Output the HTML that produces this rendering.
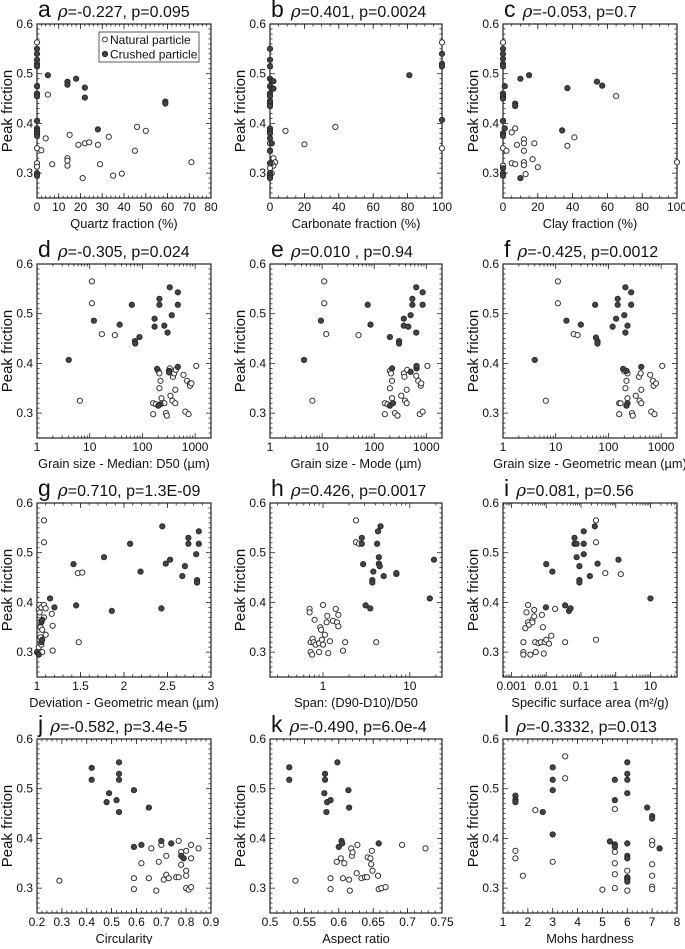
<!DOCTYPE html>
<html><head><meta charset="utf-8"><style>
body{margin:0;background:#fff}
svg text{font-family:"Liberation Sans",sans-serif;fill:#111}
</style></head><body>
<svg id="fig" width="685" height="944" viewBox="0 0 685 944" xmlns="http://www.w3.org/2000/svg"></svg>
<script>
// ---- data: [x, peak friction] pairs ----
const aNat=[[0,0.563],[0,0.35],[0,0.32],[0,0.313],[2,0.346],[4,0.37],[5,0.458],[7,0.318],[15,0.377],[19,0.357],[14,0.33],[14,0.325],[14,0.315],[21,0.29],[22,0.36],[24,0.362],[28,0.357],[29,0.318],[33,0.373],[35,0.295],[39,0.299],[45,0.345],[46,0.393],[50,0.385],[71,0.322]];
const aCru=[[0,0.55],[0,0.54],[0,0.528],[0,0.52],[0,0.515],[0,0.475],[0,0.46],[0,0.455],[0,0.405],[0,0.39],[0,0.385],[0,0.38],[0,0.375],[0,0.3],[0,0.295],[5,0.497],[14,0.484],[14,0.478],[18,0.49],[22,0.472],[22,0.452],[28,0.388],[59,0.444],[59,0.44]];
const bNat=[[100,0.563],[100,0.35],[9,0.385],[20,0.358],[38,0.393],[2,0.33],[3,0.322],[2,0.315],[1,0.3],[1,0.32],[0,0.31],[0,0.36],[1,0.36],[0,0.345]];
const bCru=[[0,0.55],[0,0.528],[0,0.515],[0,0.49],[1,0.485],[2,0.485],[0,0.475],[1,0.47],[2,0.47],[0,0.46],[0,0.455],[0,0.445],[0,0.44],[0,0.435],[0,0.39],[0,0.385],[0,0.38],[0,0.37],[1,0.36],[0,0.345],[0,0.32],[0,0.3],[0,0.295],[0,0.29],[81,0.497],[100,0.54],[100,0.52],[100,0.515],[100,0.407]];
const cNat=[[0,0.563],[0,0.35],[0,0.315],[2,0.345],[5,0.382],[7,0.39],[5,0.32],[8,0.357],[7,0.318],[12,0.368],[12,0.36],[12,0.345],[12,0.322],[12,0.316],[13,0.298],[17,0.328],[18,0.36],[20,0.312],[37,0.355],[41,0.372],[65,0.455],[100,0.322]];
const cCru=[[0,0.55],[0,0.54],[0,0.53],[0,0.52],[0,0.515],[0,0.46],[0,0.455],[0,0.45],[0,0.405],[0,0.38],[0,0.375],[0,0.31],[0,0.3],[0,0.295],[1,0.475],[1,0.39],[7,0.44],[7,0.435],[10,0.49],[10,0.29],[15,0.497],[34,0.386],[37,0.471],[54,0.484],[57,0.476]];
const dNat=[[11,0.565],[11,0.521],[17,0.459],[30,0.457],[6.5,0.325],[160,0.298],[160,0.32],[180,0.318],[200,0.385],[210,0.38],[210,0.35],[220,0.365],[230,0.33],[260,0.32],[280,0.3],[290,0.295],[330,0.39],[340,0.335],[370,0.325],[380,0.373],[400,0.38],[420,0.32],[420,0.347],[430,0.387],[600,0.377],[650,0.303],[700,0.365],[750,0.298],[800,0.36],[800,0.355],[850,0.36],[1050,0.395]];
const dCru=[[4,0.407],[12,0.486],[37,0.478],[63,0.518],[72,0.445],[73,0.44],[88,0.453],[170,0.49],[170,0.474],[210,0.53],[210,0.518],[260,0.476],[300,0.462],[330,0.553],[360,0.497],[470,0.543],[470,0.518],[190,0.389],[320,0.385],[320,0.382],[470,0.393],[220,0.318],[200,0.315]];
const eNat=[[11,0.565],[11,0.521],[12,0.459],[50,0.457],[6.5,0.325],[160,0.298],[160,0.32],[180,0.318],[200,0.385],[200,0.35],[210,0.38],[220,0.365],[220,0.33],[250,0.3],[280,0.295],[330,0.335],[370,0.38],[380,0.373],[390,0.325],[420,0.32],[430,0.387],[420,0.347],[640,0.375],[700,0.365],[750,0.298],[780,0.355],[800,0.36],[850,0.303],[1050,0.395]];
const eCru=[[4.5,0.407],[9.5,0.486],[75,0.518],[85,0.478],[200,0.453],[300,0.445],[300,0.44],[220,0.39],[370,0.49],[370,0.476],[450,0.474],[500,0.497],[540,0.53],[540,0.518],[640,0.553],[640,0.462],[650,0.39],[650,0.395],[500,0.383],[850,0.543],[850,0.518],[200,0.315],[230,0.32]];
const fNat=[[11,0.565],[11,0.521],[22,0.459],[26,0.457],[6.5,0.325],[160,0.298],[160,0.32],[170,0.32],[200,0.385],[210,0.35],[220,0.365],[230,0.33],[230,0.38],[280,0.3],[290,0.295],[330,0.335],[380,0.373],[390,0.325],[410,0.38],[420,0.32],[420,0.347],[620,0.377],[650,0.303],[700,0.365],[720,0.355],[750,0.298],[800,0.36],[1050,0.395]];
const fCru=[[4,0.407],[16,0.486],[30,0.478],[56,0.518],[58,0.452],[62,0.445],[62,0.44],[120,0.474],[140,0.49],[150,0.53],[150,0.518],[200,0.497],[210,0.553],[210,0.462],[230,0.476],[270,0.543],[270,0.518],[190,0.389],[220,0.385],[420,0.393],[230,0.32],[220,0.315]];
const gNat=[[1.08,0.565],[1.08,0.521],[1.47,0.459],[1.52,0.46],[1.48,0.32],[1.18,0.303],[1.17,0.377],[1.18,0.353],[1.02,0.385],[1.03,0.38],[1.05,0.39],[1.08,0.395],[1.1,0.388],[1.04,0.35],[1.08,0.37],[1.04,0.33],[1.1,0.335],[1.02,0.31],[1.05,0.315],[1.06,0.3],[1.03,0.36],[1.06,0.345]];
const gCru=[[1.0,0.3],[1.02,0.295],[1.05,0.32],[1.06,0.325],[1.05,0.36],[1.06,0.365],[1.15,0.408],[1.2,0.39],[1.42,0.477],[1.45,0.394],[1.77,0.491],[1.86,0.383],[2.07,0.518],[2.19,0.462],[2.44,0.553],[2.43,0.388],[2.48,0.478],[2.53,0.486],[2.67,0.453],[2.7,0.473],[2.74,0.53],[2.74,0.518],[2.83,0.497],[2.84,0.445],[2.84,0.44],[2.86,0.543],[2.86,0.518]];
const hNat=[[2.4,0.565],[2.4,0.521],[2.6,0.518],[7,0.457],[4.1,0.32],[0.7,0.387],[0.7,0.38],[0.72,0.32],[0.72,0.3],[0.75,0.295],[0.76,0.327],[0.78,0.32],[0.8,0.365],[0.82,0.315],[0.9,0.3],[0.9,0.318],[0.93,0.35],[0.95,0.345],[0.97,0.325],[1.0,0.395],[1.0,0.315],[1.05,0.335],[1.1,0.36],[1.12,0.373],[1.15,0.298],[1.2,0.322],[1.3,0.363],[1.4,0.387],[1.45,0.36],[1.5,0.375],[1.5,0.352],[1.7,0.303],[1.8,0.32]];
const hCru=[[2.8,0.53],[2.8,0.518],[2.9,0.477],[3.1,0.394],[3.5,0.388],[3.7,0.445],[3.7,0.44],[3.8,0.462],[4.2,0.518],[4.3,0.543],[4.4,0.491],[4.4,0.478],[4.5,0.473],[4.6,0.553],[5,0.453],[7,0.459],[17,0.408],[19,0.486]];
const iNat=[[0.27,0.565],[0.27,0.521],[0.5,0.459],[1.4,0.457],[0.27,0.325],[0.035,0.32],[0.0022,0.3],[0.0022,0.295],[0.0022,0.32],[0.0025,0.348],[0.0027,0.38],[0.003,0.395],[0.003,0.36],[0.0032,0.355],[0.0035,0.295],[0.004,0.365],[0.004,0.36],[0.0045,0.385],[0.0045,0.372],[0.0048,0.32],[0.005,0.3],[0.006,0.318],[0.007,0.32],[0.0075,0.375],[0.008,0.35],[0.0085,0.297],[0.009,0.32],[0.01,0.325],[0.012,0.317],[0.014,0.333],[0.018,0.387]];
const iCru=[[0.0098,0.39],[0.01,0.477],[0.015,0.462],[0.035,0.394],[0.045,0.383],[0.05,0.388],[0.065,0.53],[0.065,0.518],[0.075,0.518],[0.075,0.491],[0.09,0.473],[0.09,0.445],[0.09,0.44],[0.12,0.543],[0.12,0.518],[0.12,0.497],[0.18,0.453],[0.25,0.553],[0.3,0.478],[1.2,0.486],[10,0.408]];
const jNat=[[0.29,0.315],[0.59,0.32],[0.59,0.298],[0.62,0.35],[0.65,0.32],[0.66,0.38],[0.68,0.295],[0.69,0.353],[0.7,0.387],[0.71,0.317],[0.72,0.327],[0.72,0.365],[0.73,0.32],[0.76,0.322],[0.77,0.395],[0.77,0.322],[0.78,0.347],[0.78,0.373],[0.79,0.36],[0.8,0.335],[0.8,0.325],[0.8,0.3],[0.81,0.297],[0.8,0.375],[0.82,0.36],[0.82,0.387],[0.82,0.302],[0.85,0.38]];
const jCru=[[0.42,0.542],[0.42,0.518],[0.49,0.491],[0.48,0.473],[0.53,0.553],[0.53,0.53],[0.53,0.518],[0.52,0.477],[0.53,0.453],[0.59,0.497],[0.65,0.462],[0.59,0.383],[0.62,0.387],[0.7,0.395],[0.74,0.39],[0.78,0.365],[0.79,0.36]];
const kNat=[[0.537,0.315],[0.588,0.32],[0.588,0.298],[0.597,0.353],[0.603,0.36],[0.606,0.32],[0.608,0.35],[0.615,0.317],[0.616,0.295],[0.618,0.38],[0.619,0.365],[0.62,0.372],[0.626,0.33],[0.627,0.387],[0.633,0.32],[0.638,0.322],[0.641,0.322],[0.642,0.362],[0.646,0.36],[0.647,0.348],[0.648,0.375],[0.649,0.335],[0.657,0.325],[0.658,0.298],[0.662,0.3],[0.668,0.302],[0.692,0.387],[0.726,0.38]];
const kCru=[[0.528,0.543],[0.528,0.518],[0.58,0.53],[0.58,0.518],[0.579,0.491],[0.583,0.473],[0.588,0.477],[0.582,0.453],[0.598,0.553],[0.614,0.497],[0.615,0.462],[0.6,0.383],[0.604,0.395],[0.605,0.39],[0.658,0.39]];
const lNat=[[1.5,0.375],[1.5,0.36],[1.8,0.325],[2.3,0.457],[3,0.353],[3.5,0.565],[3.5,0.521],[5,0.297],[5.5,0.459],[5.5,0.373],[5.5,0.35],[5.5,0.328],[5.5,0.3],[6,0.335],[6,0.295],[6,0.32],[7,0.395],[7,0.387],[7,0.348],[7,0.325],[7,0.303],[7,0.298]];
const lCru=[[1.5,0.486],[1.5,0.478],[1.5,0.473],[2.6,0.453],[3,0.543],[3,0.518],[3,0.497],[3,0.408],[5.3,0.394],[5.5,0.518],[5.5,0.477],[5.5,0.388],[5.5,0.383],[6,0.553],[6,0.53],[6,0.518],[6,0.491],[6,0.39],[6,0.365],[6,0.36],[6,0.322],[6,0.318],[6,0.313],[6.8,0.462],[7,0.445],[7,0.44],[7.3,0.38]];
const panelLetters=["a","b","c","d","e","f","g","h","i","j","k","l"];
const panelStats=["=-0.227, p=0.095","=0.401, p=0.0024","=-0.053, p=0.7","=-0.305, p=0.024","=0.010 , p=0.94","=-0.425, p=0.0012","=0.710, p=1.3E-09","=0.426, p=0.0017","=0.081, p=0.56","=-0.582, p=3.4e-5","=-0.490, p=6.0e-4","=-0.3332, p=0.013"];
const xTitles=["Quartz fraction (%)","Carbonate fraction (%)","Clay fraction (%)","Grain size - Median: D50 (µm)","Grain size - Mode (µm)","Grain size - Geometric mean (µm)","Deviation - Geometric mean (µm)","Span: (D90-D10)/D50","Specific surface area (m²/g)","Circularity","Aspect ratio","Mohs hardness"];
const yTicks=[0.3,0.4,0.5,0.6];

const NS="http://www.w3.org/2000/svg";
const svg=document.getElementById('fig');
function mk(tag,attrs,parent){const e=document.createElementNS(NS,tag);for(const k in attrs)e.setAttribute(k,attrs[k]);(parent||svg).appendChild(e);return e;}
const colL=[37,270,503], colW=[174,172,174];
const rowT=[24,264,503,739], H=174;
const axes=[
 ["lin",0,80,[0,10,20,30,40,50,60,70,80],null,2],
 ["lin",0,100,[0,20,40,60,80,100],null,5],
 ["lin",0,100,[0,20,40,60,80,100],null,5],
 ["log",1,2000,[1,10,100,1000],["1","10","100","1000"]],
 ["log",1,2000,[1,10,100,1000],["1","10","100","1000"]],
 ["log",1,2000,[1,10,100,1000],["1","10","100","1000"]],
 ["lin",1,3,[1,1.5,2,2.5,3],["1","1.5","2","2.5","3"],0.1],
 ["log",0.245,23.5,[1,10],["1","10"]],
 ["log",0.00057,58,[0.001,0.01,0.1,1,10],["0.001","0.01","0.1","1","10"]],
 ["lin",0.2,0.9,[0.2,0.3,0.4,0.5,0.6,0.7,0.8,0.9],null,0.02],
 ["lin",0.5,0.75,[0.5,0.55,0.6,0.65,0.7,0.75],null,0.01],
 ["lin",1,8,[1,2,3,4,5,6,7,8],null,0.2]
];
const nats=[aNat,bNat,cNat,dNat,eNat,fNat,gNat,hNat,iNat,jNat,kNat,lNat];
const crus=[aCru,bCru,cCru,dCru,eCru,fCru,gCru,hCru,iCru,jCru,kCru,lCru];

for(let p=0;p<12;p++){
 const L=colL[p%3], W=colW[p%3], T=rowT[Math.floor(p/3)];
 const ax=axes[p];
 const g=mk('g',{});
 
 
 const sx=v=>ax[0]==="log"? L+W*(Math.log10(v)-Math.log10(ax[1]))/(Math.log10(ax[2])-Math.log10(ax[1])) : L+W*(v-ax[1])/(ax[2]-ax[1]);
 const sy=v=>T+H*(0.6-v)/0.35;
 const tt=mk('text',{x:L+1,y:T-7},g);
 
 
 const t1=mk('tspan',{'font-size':23},tt); t1.textContent=panelLetters[p];
 const t2=mk('tspan',{'font-size':17,dx:7,'font-style':'italic','font-family':'"DejaVu Serif",serif'},tt); t2.textContent="ρ";
 const t3=mk('tspan',{'font-size':16},tt); t3.textContent=panelStats[p];
 const fr=mk('rect',{x:L,y:T,width:W,height:H,fill:'none',stroke:'#222','stroke-width':1.2},g);
 
 
 for(let v=0.25;v<=0.6001;v+=0.01){
  const y=sy(v), maj=Math.abs(v*10-Math.round(v*10))<1e-6;
  const len=maj?5:2.5;
  mk('line',{x1:L,x2:L+len,y1:y,y2:y,stroke:'#222','stroke-width':0.8},g);
  mk('line',{x1:L+W,x2:L+W-len,y1:y,y2:y,stroke:'#222','stroke-width':0.8},g);
 }
 yTicks.forEach(v=>{const t=mk('text',{x:L-4,y:sy(v)+4,'font-size':12,'text-anchor':'end'},g);
  
  
  t.textContent=v.toFixed(1);});
 const minors=[];
 if(ax[0]==="log"){
  const d0=Math.floor(Math.log10(ax[1])), d1=Math.ceil(Math.log10(ax[2]));
  for(let d=d0;d<=d1;d++)for(let m=2;m<=9;m++){const v=m*Math.pow(10,d);if(v>ax[1]&&v<ax[2])minors.push(v);}
 } else {
  for(let v=ax[1];v<=ax[2]+1e-9;v+=ax[5])minors.push(v);
 }
 minors.forEach(v=>{const x=sx(v);
  mk('line',{x1:x,x2:x,y1:T+H,y2:T+H-2.5,stroke:'#222','stroke-width':0.8},g);
  mk('line',{x1:x,x2:x,y1:T,y2:T+2.5,stroke:'#222','stroke-width':0.8},g);});
 ax[3].forEach((v,i)=>{const x=sx(v);
  mk('line',{x1:x,x2:x,y1:T+H,y2:T+H-5,stroke:'#222','stroke-width':0.8},g);
  mk('line',{x1:x,x2:x,y1:T,y2:T+5,stroke:'#222','stroke-width':0.8},g);
  const t=mk('text',{x:x,y:T+H+13,'font-size':12,'text-anchor':'middle'},g);
  
  
  t.textContent=ax[4]?ax[4][i]:String(v);});
 const xt=mk('text',{x:L+W/2,y:T+H+30,'font-size':12.8,'text-anchor':'middle'},g);
 
 
 xt.textContent=xTitles[p];
 const yt=mk('text',{x:0,y:0,'font-size':15,'text-anchor':'middle',transform:`translate(${L-25},${T+H/2}) rotate(-90)`},g);
 
 
 yt.textContent="Peak friction";
 nats[p].forEach(d=>{const c=mk('circle',{cx:sx(d[0]),cy:sy(d[1]),r:2.6,fill:'#fff',stroke:'#333','stroke-width':1},g);
  
  });
 crus[p].forEach(d=>{const c=mk('circle',{cx:sx(d[0]),cy:sy(d[1]),r:2.7,fill:'#444',stroke:'#222','stroke-width':0.8},g);
  
  });
 if(p===0){
  const lg=mk('g',{},g);
  
  
  mk('rect',{x:99,y:32,width:100,height:30,fill:'#fff',stroke:'#333','stroke-width':0.8},lg);
  mk('circle',{cx:105,cy:39.5,r:2.4,fill:'#fff',stroke:'#333'},lg);
  mk('circle',{cx:105,cy:54,r:2.6,fill:'#444',stroke:'#222'},lg);
  const a=mk('text',{x:110,y:44,'font-size':12},lg);
  
  
  a.textContent="Natural particle";
  const b=mk('text',{x:110,y:58.5,'font-size':12},lg);
  
  
  b.textContent="Crushed particle";
 }
}
</script>
</body></html>
